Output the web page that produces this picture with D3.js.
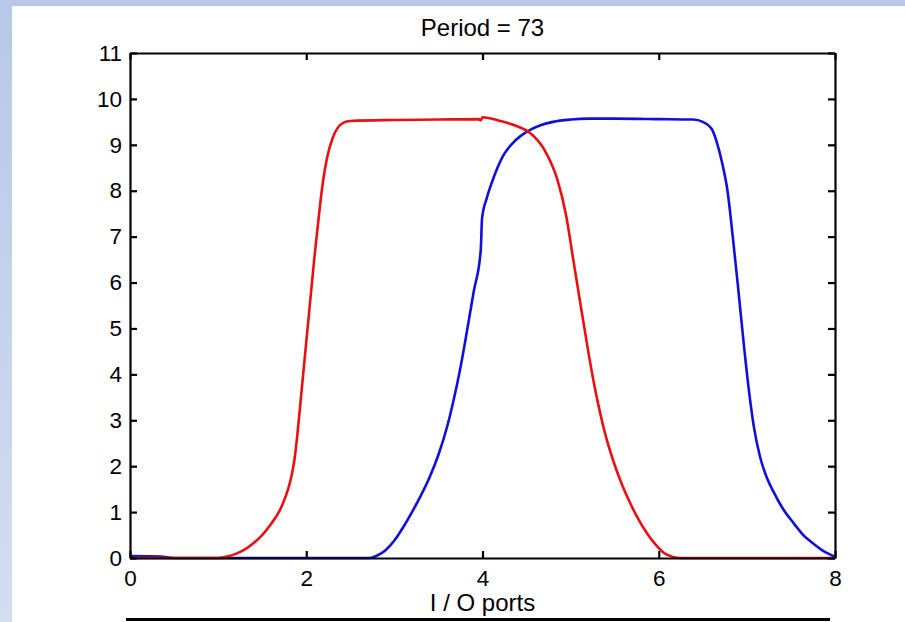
<!DOCTYPE html>
<html>
<head>
<meta charset="utf-8">
<script src="https://cdn.jsdelivr.net/npm/d3@7"></script>
<style>
  html, body { margin: 0; padding: 0; background: #ffffff; }
  svg { display: block; }
  text { font-family: "Liberation Sans", Arial, sans-serif; fill: #000; }
</style>
</head>
<body>
<svg id="chart" width="905" height="622"></svg>
<script>
// Port position (x) and amplitude (y) samples for each output waveform
const redPorts  = [0, 0.5, 1.0, 1.1, 1.2, 1.3, 1.4, 1.5, 1.6, 1.7, 1.75, 1.8, 1.84, 1.87, 1.9, 1.94, 1.99, 2.04, 2.09, 2.14, 2.19, 2.24, 2.3, 2.36, 2.42, 2.5, 3.0, 3.5, 3.96, 3.98, 4.0, 4.2, 4.4, 4.54, 4.7, 4.85, 4.95, 5.03, 5.11, 5.2, 5.27, 5.33, 5.4, 5.48, 5.57, 5.67, 5.77, 5.87, 5.97, 6.06, 6.15, 6.25, 8.0];
const redValues = [0, 0, 0, 0.03, 0.09, 0.18, 0.32, 0.5, 0.74, 1.04, 1.26, 1.54, 1.85, 2.2, 2.7, 3.5, 4.5, 5.5, 6.5, 7.4, 8.2, 8.75, 9.15, 9.38, 9.48, 9.52, 9.54, 9.55, 9.56, 9.53, 9.6, 9.52, 9.4, 9.26, 8.9, 8.24, 7.45, 6.5, 5.55, 4.5, 3.75, 3.2, 2.65, 2.14, 1.66, 1.22, 0.84, 0.53, 0.28, 0.11, 0.03, 0, 0];

const bluePorts  = [0, 0.35, 0.5, 2.0, 2.72, 2.8, 2.9, 3.0, 3.1, 3.2, 3.3, 3.4, 3.5, 3.6, 3.67, 3.75, 3.82, 3.9, 3.98, 3.995, 4.05, 4.11, 4.17, 4.23, 4.35, 4.5, 4.65, 4.8, 5.0, 5.2, 5.5, 6.0, 6.39, 6.5, 6.6, 6.66, 6.72, 6.78, 6.84, 6.9, 6.96, 7.02, 7.08, 7.15, 7.22, 7.3, 7.4, 7.53, 7.64, 7.75, 7.87, 8.0];
const blueValues = [0.04, 0.03, 0, 0, 0, 0.05, 0.17, 0.38, 0.67, 1.0, 1.36, 1.76, 2.25, 2.87, 3.42, 4.15, 4.9, 5.8, 6.7, 7.4, 7.85, 8.2, 8.5, 8.75, 9.05, 9.28, 9.42, 9.5, 9.55, 9.57, 9.57, 9.56, 9.55, 9.5, 9.35, 9.05, 8.6, 8.0, 7.0, 5.9, 4.75, 3.7, 2.85, 2.2, 1.78, 1.45, 1.1, 0.76, 0.5, 0.32, 0.15, 0.03];

const xTicks = [0, 2, 4, 6, 8];
const yTicks = [0, 1, 2, 3, 4, 5, 6, 7, 8, 9, 10, 11];
const titleText = "Period = 73";
const xLabel = "I / O ports";

const svg = d3.select("#chart");
const W = 905, H = 622;
const plot = { left: 130, right: 835, top: 53, bottom: 558 };

// Slide-style backdrop: blue band across the top and a fading band down the left
const defs = svg.append("defs");
const grad = defs.append("linearGradient").attr("id", "sideBand")
  .attr("x1", 0).attr("y1", 0).attr("x2", 0).attr("y2", 1);
grad.append("stop").attr("offset", "0%").attr("stop-color", "#b7c8e8");
grad.append("stop").attr("offset", "100%").attr("stop-color", "#d3ddf0");
svg.append("rect").attr("x", 0).attr("y", 0).attr("width", W).attr("height", H).attr("fill", "#ffffff");
svg.append("rect").attr("x", 0).attr("y", 0).attr("width", 12).attr("height", H).attr("fill", "url(#sideBand)");
svg.append("rect").attr("x", 0).attr("y", 0).attr("width", W).attr("height", 6).attr("fill", "#b7c8e8");

const x = d3.scaleLinear().domain([0, 8]).range([plot.left, plot.right]);
const y = d3.scaleLinear().domain([0, 11]).range([plot.bottom, plot.top]);

const line = d3.line()
  .x(d => x(d[0]))
  .y(d => y(d[1]))
  .curve(d3.curveMonotoneX);

const series = [
  { ports: bluePorts, values: blueValues, color: "#1010d8" },
  { ports: redPorts, values: redValues, color: "#e81010" }
];

svg.append("g").selectAll("path")
  .data(series)
  .join("path")
  .attr("d", s => line(s.ports.map((p, i) => [p, s.values[i]])))
  .attr("fill", "none")
  .attr("stroke", s => s.color)
  .attr("stroke-width", 2.6)
  .attr("stroke-linejoin", "round");

// Boxed axes with inward ticks on all four sides
const tickLen = 7;
const tickFont = 22.5;
const labelFont = 24;

const bottomAxis = d3.axisBottom(x).tickValues(xTicks).tickSizeInner(-tickLen).tickSizeOuter(0).tickPadding(12).tickFormat(d3.format("d"));
const topAxis = d3.axisTop(x).tickValues(xTicks).tickSizeInner(-tickLen).tickSizeOuter(0).tickFormat("");
const leftAxis = d3.axisLeft(y).tickValues(yTicks).tickSizeInner(-tickLen).tickSizeOuter(0).tickPadding(8).tickFormat(d3.format("d"));
const rightAxis = d3.axisRight(y).tickValues(yTicks).tickSizeInner(-tickLen).tickSizeOuter(0).tickFormat("");

function styleAxis(g) {
  g.select(".domain").attr("stroke", "#000").attr("stroke-width", 2.2);
  g.selectAll(".tick line").attr("stroke", "#000").attr("stroke-width", 2.2);
  g.selectAll(".tick text").attr("font-size", tickFont).attr("font-family", "Liberation Sans, Arial, sans-serif").attr("fill", "#000");
}

svg.append("g").attr("transform", `translate(0,${plot.bottom})`).call(bottomAxis).call(styleAxis);
svg.append("g").attr("transform", `translate(0,${plot.top})`).call(topAxis).call(styleAxis);
svg.append("g").attr("transform", `translate(${plot.left},0)`).call(leftAxis).call(styleAxis);
svg.append("g").attr("transform", `translate(${plot.right},0)`).call(rightAxis).call(styleAxis);

// Title and axis label
svg.append("text")
  .attr("x", (plot.left + plot.right) / 2)
  .attr("y", 36)
  .attr("text-anchor", "middle")
  .attr("font-size", labelFont)
  .text(titleText);

svg.append("text")
  .attr("x", (plot.left + plot.right) / 2)
  .attr("y", 611)
  .attr("text-anchor", "middle")
  .attr("font-size", labelFont)
  .text(xLabel);

// Heavy rule along the bottom edge
svg.append("line")
  .attr("x1", 126).attr("x2", 830)
  .attr("y1", 619.5).attr("y2", 619.5)
  .attr("stroke", "#000").attr("stroke-width", 3);
</script>
</body>
</html>
